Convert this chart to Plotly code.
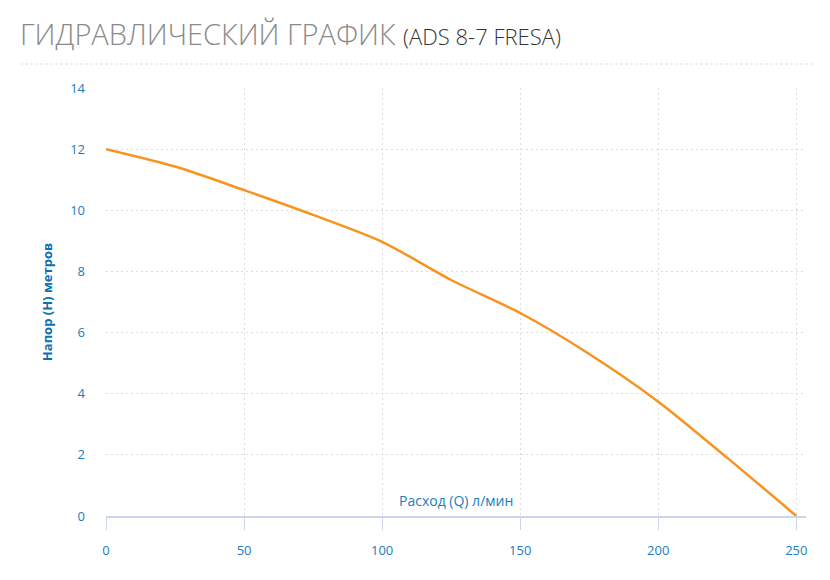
import plotly.graph_objects as go

# pump curve
flow_lpm = [0, 25, 50, 75, 100, 125, 150, 175, 200, 225, 250]
head_m = [12.0, 11.43, 10.66, 9.85, 8.97, 7.72, 6.64, 5.3, 3.74, 1.9, 0.0]

x_ticks = [0, 50, 100, 150, 200, 250]
y_ticks = [0, 2, 4, 6, 8, 10, 12, 14]

TITLE = "ГИДРАВЛИЧЕСКИЙ ГРАФИК"
MODEL = "(ADS 8-7 FRESA)"
X_TITLE = "Расход (Q) л/мин"
Y_TITLE = "Напор (H) метров"

FONT = "Open Sans, sans-serif"
BLUE = "#1b7cc0"
ORANGE = "#f7931e"
GRID = "#dcdcdc"
AXIS = "#ccd6eb"

# the page body keeps its default 8px margin, so size the figure to fit
W, H = 822, 572

fig = go.Figure()
fig.add_trace(go.Scatter(
    x=flow_lpm, y=head_m, mode="lines",
    line=dict(color=ORANGE, width=2.5, shape="spline", smoothing=0.8),
    hoverinfo="x+y", showlegend=False,
))

fig.update_layout(
    width=W, height=H,
    margin=dict(l=98, r=24, t=80, b=64),
    paper_bgcolor="white", plot_bgcolor="white",
    font=dict(family=FONT, size=13, color=BLUE),
    title=dict(
        text=f"{TITLE} <span style='font-size:22px;color:#333333'>{MODEL}</span>",
        x=12 / W, xref="container", xanchor="left",
        y=1 - 27 / H, yref="container", yanchor="middle",
        font=dict(family=FONT, size=29, color="#8a8a8a", weight=300),
    ),
)

fig.update_xaxes(
    range=[0, 253.5], tickvals=x_ticks, ticks="outside", ticklen=12,
    tickcolor=AXIS, showline=True, linecolor=AXIS, linewidth=1.5,
    showgrid=True, gridcolor=GRID, griddash="2px,3px", gridwidth=1,
    zeroline=False, ticklabelstandoff=10,
    tickfont=dict(size=13, color=BLUE),
)
fig.update_yaxes(
    range=[0, 14], tickvals=y_ticks, ticks="", showline=False,
    showgrid=True, gridcolor=GRID, griddash="2px,3px", gridwidth=1,
    zeroline=False, ticklabelstandoff=20,
    tickfont=dict(size=13, color=BLUE),
    title=dict(text=Y_TITLE, standoff=14,
               font=dict(size=13, color="#0a6fb4", weight="bold")),
)

# x axis title sits inside the plot, just above the axis line
fig.add_annotation(
    text=X_TITLE, xref="paper", yref="paper", x=0.5, y=16 / 428,
    xanchor="center", yanchor="middle", showarrow=False,
    font=dict(size=14, color=BLUE),
)

# dashed separator under the heading
fig.add_shape(
    type="line", xref="paper", yref="paper",
    x0=-86 / 700, x1=709 / 700, y0=1 + 24 / 428, y1=1 + 24 / 428,
    line=dict(color="#e0e0e0", width=1, dash="3px,2px"),
)

fig.write_html("out.html")
